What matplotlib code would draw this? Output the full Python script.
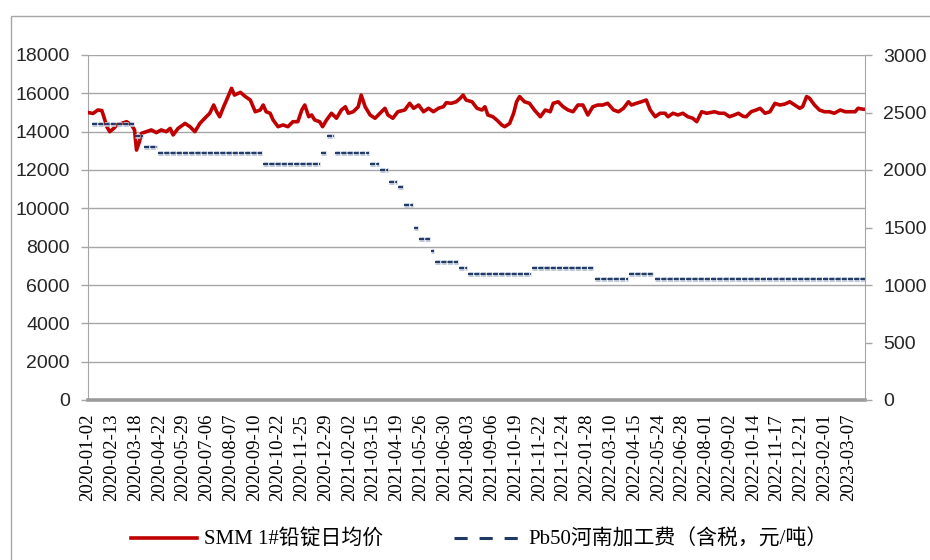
import matplotlib
matplotlib.use("Agg")
import matplotlib.pyplot as plt
import matplotlib.patheffects as pe
from matplotlib.lines import Line2D
from matplotlib.patches import Rectangle

# --- Data (x = trading-day index from 2020-01-02) ---
date_labels = [
    "2020-01-02", "2020-02-13", "2020-03-18", "2020-04-22", "2020-05-29",
    "2020-07-06", "2020-08-07", "2020-09-10", "2020-10-22", "2020-11-25",
    "2020-12-29", "2021-02-02", "2021-03-15", "2021-04-19", "2021-05-26",
    "2021-06-30", "2021-08-03", "2021-09-06", "2021-10-19", "2021-11-22",
    "2021-12-24", "2022-01-28", "2022-03-10", "2022-04-15", "2022-05-24",
    "2022-06-28", "2022-08-01", "2022-09-02", "2022-10-14", "2022-11-17",
    "2022-12-21", "2023-02-01", "2023-03-07",
]
LABEL_STEP = 24
LAST_DAY = 785

# SMM 1# lead ingot daily average price (left axis)
price_day = [
    0, 5, 10, 14, 16, 19, 22, 26, 29, 34, 39, 44, 47, 49, 52, 54, 59, 64, 69, 74,
    79, 83, 86, 91, 98, 103, 108, 113, 118, 123, 127, 130, 133, 137, 140, 145, 148, 154, 159, 164,
    169, 174, 177, 180, 184, 187, 192, 197, 202, 207, 212, 216, 219, 223, 226, 229, 234, 237, 241, 246,
    251, 256, 260, 263, 268, 273, 276, 280, 285, 290, 295, 300, 303, 308, 313, 320, 325, 329, 334, 339,
    344, 349, 354, 359, 362, 367, 372, 376, 379, 382, 388, 393, 398, 401, 404, 409, 413, 418, 421, 426,
    430, 433, 436, 441, 446, 451, 457, 462, 467, 470, 475, 480, 485, 490, 495, 500, 505, 510, 515, 520,
    525, 531, 536, 541, 546, 549, 554, 559, 564, 568, 573, 578, 583, 586, 591, 596, 601, 606, 611, 615,
    620, 625, 633, 638, 643, 648, 653, 657, 662, 665, 670, 675, 679, 684, 689, 694, 699, 704, 709, 714,
    719, 722, 726, 729, 734, 739, 744, 749, 754, 760, 765, 770, 775, 778, 783, 785,
]
price_val = [
    15000, 14950, 15130, 15100, 14780, 14260, 14000, 14170, 14350, 14430, 14520, 14350, 14090, 13040, 13480, 13910, 14000, 14090, 13950, 14090,
    14000, 14170, 13830, 14170, 14430, 14260, 14000, 14430, 14700, 14960, 15390, 15040, 14780, 15300, 15650, 16260, 15910, 16050, 15830, 15650,
    15040, 15130, 15390, 15040, 14960, 14610, 14260, 14350, 14260, 14520, 14520, 15130, 15390, 14780, 14870, 14610, 14520, 14260, 14610, 14960,
    14700, 15130, 15300, 14960, 15040, 15300, 15910, 15300, 14870, 14700, 14960, 15220, 14870, 14700, 15040, 15130, 15480, 15220, 15390, 15040,
    15220, 15040, 15220, 15300, 15510, 15480, 15560, 15740, 15910, 15650, 15560, 15220, 15130, 15300, 14870, 14780, 14610, 14350, 14260, 14430,
    14960, 15560, 15830, 15560, 15480, 15130, 14780, 15130, 15040, 15480, 15560, 15300, 15130, 15040, 15390, 15390, 14870, 15300, 15390, 15390,
    15480, 15130, 15040, 15220, 15560, 15390, 15480, 15560, 15650, 15130, 14780, 14960, 14960, 14780, 14960, 14870, 14960, 14780, 14700, 14520,
    15040, 14960, 15040, 14960, 14960, 14780, 14870, 14960, 14800, 14780, 15040, 15130, 15220, 14960, 15040, 15480, 15390, 15440, 15560, 15390,
    15220, 15300, 15830, 15740, 15390, 15130, 15040, 15040, 14960, 15130, 15040, 15040, 15040, 15220, 15170, 15170,
]

# Pb50 Henan processing fee (right axis), one entry per flat period
fee_level = [2400, 2300, 2200, 2150, 2050, 2150, 2300, 2150, 2050, 2000, 1900, 1850,
             1700, 1500, 1400, 1300, 1200, 1150, 1100, 1150, 1050, 1100, 1050]
fee_start = [4, 47, 57, 71, 177, 235, 241, 250, 285, 295, 304, 313,
             319, 329, 334, 347, 351, 375, 384, 449, 512, 547, 573]
fee_end = [46, 56, 70, 176, 234, 240, 249, 284, 294, 303, 312, 318,
           328, 333, 346, 350, 374, 383, 448, 511, 546, 572, 785]

RED = "#C00000"
NAVY = "#1F3864"
GRID = "#A6A6A6"

fig = plt.figure(figsize=(9.3, 5.6), dpi=100)
ax = fig.add_axes([88 / 930, 1 - 400 / 560, (865 - 88) / 930, 345 / 560])
ax2 = ax.twinx()

# outer chart frame
fig.add_artist(Rectangle((11 / 930, -0.1), 1.2, 1 - 16 / 560 + 0.1,
                         transform=fig.transFigure, fill=False, ec=GRID, lw=1.0))

ax.plot(price_day, price_val, color=RED, lw=2.6, solid_joinstyle="round", zorder=3)

outline = [pe.withStroke(linewidth=3.4, foreground="#B8C2D4")]
for lvl, s, e in zip(fee_level, fee_start, fee_end):
    ax2.plot([s, e], [lvl, lvl], color=NAVY, lw=1.4, ls=(0, (2.6, 0.6)),
             solid_capstyle="butt", dash_capstyle="butt", path_effects=outline)

ax.set_xlim(0, LAST_DAY)
ax.set_ylim(0, 18000)
ax2.set_ylim(0, 3000)
ax.set_yticks(range(0, 18001, 2000))
ax2.set_yticks(range(0, 3001, 500))
ax.set_xticks([i * LABEL_STEP for i in range(len(date_labels))])
ax.set_xticklabels(date_labels, rotation=90, fontfamily="Liberation Serif", fontsize=13.5)

ax.yaxis.grid(True, color=GRID, lw=1.0)
ax.set_axisbelow(True)

for sp in ["top", "right"]:
    ax.spines[sp].set_visible(False)
for sp in ["top", "left", "bottom"]:
    ax2.spines[sp].set_visible(False)
ax.spines["left"].set_color(GRID)
ax.spines["bottom"].set_color("#9A9A9A")
ax.spines["bottom"].set_linewidth(2.6)
ax2.spines["right"].set_color(GRID)

ax.tick_params(axis="y", length=5, width=1, color=GRID, pad=8)
ax2.tick_params(axis="y", length=5, width=1, color=GRID, pad=8)
ax.tick_params(axis="x", length=0, pad=10)
for lab in ax.get_yticklabels() + ax2.get_yticklabels():
    lab.set_fontfamily("Liberation Sans")
    lab.set_fontsize(14)
    lab.set_color("#262626")

# legend
h_red = Line2D([], [], color=RED, lw=2.6)
h_fee = Line2D([], [], color=NAVY, lw=2.2, ls=(0, (4.3, 3.9)))
fig.legend([h_red, h_fee], ["SMM 1#铅锭日均价", "Pb50河南加工费（含税，元/吨）"],
           loc="center", bbox_to_anchor=(0.515, 0.036), ncol=2, frameon=False,
           handlelength=3.2, handletextpad=0.34, columnspacing=3.4,
           prop={"family": ["Liberation Serif", "Noto Sans CJK SC"], "size": 15})

fig.savefig("out.png", dpi=100)
